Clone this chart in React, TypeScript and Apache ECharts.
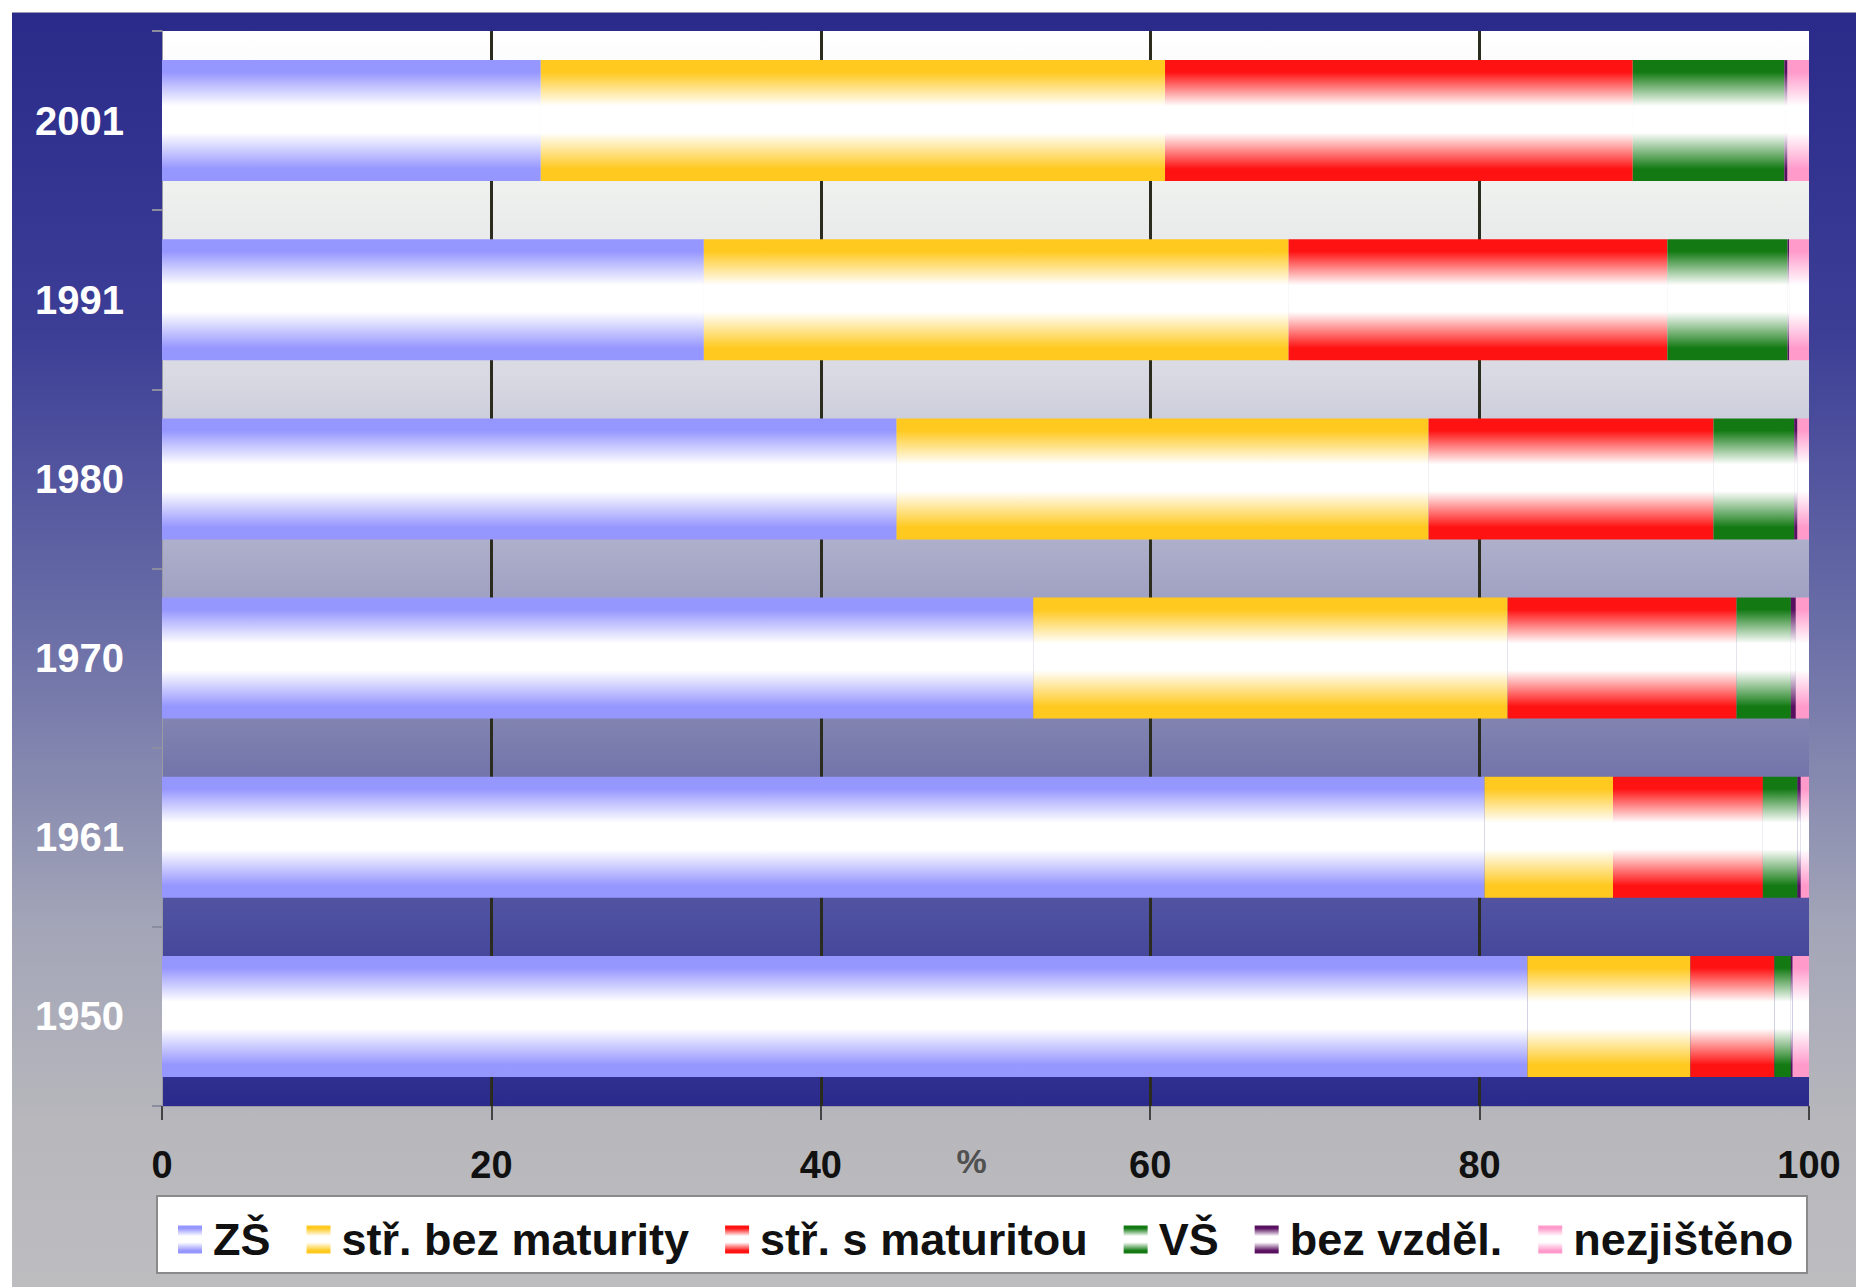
import React, { useEffect, useRef } from 'react';
import * as echarts from 'echarts';

const years = ['1950', '1961', '1970', '1980', '1991', '2001'];
const seriesNames = ['ZŠ', 'stř. bez maturity', 'stř. s maturitou', 'VŠ', 'bez vzděl.', 'nezjištěno'];
const zs = [82.9, 80.3, 52.9, 44.6, 32.9, 23.0];
const bezMaturity = [9.9, 7.8, 28.8, 32.3, 35.5, 37.9];
const sMaturitou = [5.1, 9.1, 13.9, 17.3, 23.0, 28.4];
const vs = [1.0, 2.1, 3.3, 4.9, 7.3, 9.2];
const bezVzdel = [0.1, 0.2, 0.3, 0.2, 0.1, 0.2];
const nezjisteno = [1.0, 0.5, 0.8, 0.7, 1.2, 1.3];
const xTickValues = [0, 20, 40, 60, 80, 100];
const seriesColors = ['#9696ff', '#ffc91f', '#ff1212', '#137a13', '#5a1060', '#ff9acb'];

const FONT = "'Liberation Sans', Arial, sans-serif";

function stripe(c: string) {
  return new echarts.graphic.LinearGradient(0, 0, 0, 1, [
    { offset: 0, color: c },
    { offset: 0.1, color: c },
    { offset: 0.38, color: '#ffffff' },
    { offset: 0.6, color: '#ffffff' },
    { offset: 0.9, color: c },
    { offset: 1, color: c },
  ]);
}

export default function App() {
  const ref = useRef<HTMLDivElement>(null);
  useEffect(() => {
    if (!ref.current) return;
    const chart = echarts.init(ref.current, undefined, { renderer: 'svg' });
    const allData = [zs, bezMaturity, sMaturitou, vs, bezVzdel, nezjisteno];
    const option: any = {
      animation: false,
      backgroundColor: 'transparent',
      textStyle: { fontFamily: FONT },
      graphic: [
        {
          type: 'rect',
          shape: { x: 145, y: 1183, width: 1650, height: 77 },
          style: { fill: '#ffffff', stroke: '#8a8a8a', lineWidth: 2 },
          z: 1,
          silent: true,
        },
      ],
      grid: {
        left: 150,
        right: 47,
        top: 18,
        bottom: 182,
        show: true,
        borderWidth: 0,
        backgroundColor: new echarts.graphic.LinearGradient(0, 0, 0, 1, [
          { offset: 0, color: '#ffffff' },
          { offset: 0.15, color: '#eef0ee' },
          { offset: 0.32, color: '#d8d9e2' },
          { offset: 0.49, color: '#aaabc8' },
          { offset: 0.66, color: '#7c7eae' },
          { offset: 0.82, color: '#4e50a0' },
          { offset: 1, color: '#2a2a8c' },
        ]),
      },
      legend: {
        data: seriesNames,
        left: 161,
        top: 1199,
        orient: 'horizontal',
        itemWidth: 24,
        itemHeight: 28,
        itemGap: 36,
        icon: 'rect',
        z: 10,
        textStyle: {
          fontSize: 45,
          fontWeight: 'bold',
          color: '#111111',
          fontFamily: FONT,
          padding: [0, 0, 0, 6],
        },
      },
      xAxis: {
        type: 'value',
        min: 0,
        max: 100,
        interval: 20,
        name: '%',
        nameLocation: 'middle',
        nameGap: 38,
        nameMoveOverlap: false,
        nameTextStyle: {
          fontSize: 34,
          fontWeight: 'bold',
          color: '#505050',
          fontFamily: FONT,
          padding: [0, 28, 0, 0],
        },
        axisLine: { show: true, lineStyle: { color: '#9a9aa6', width: 1 } },
        axisTick: { show: true, length: 14, lineStyle: { color: '#444444', width: 2 } },
        axisLabel: {
          fontSize: 38,
          fontWeight: 'bold',
          color: '#111111',
          margin: 40,
          fontFamily: FONT,
          formatter: (v: number) => (xTickValues.includes(v) ? String(v) : ''),
        },
        splitLine: {
          show: true,
          showMinLine: false,
          showMaxLine: false,
          lineStyle: { color: '#2b2b1e', width: 3 },
        },
      },
      yAxis: {
        type: 'category',
        data: years,
        axisLine: { show: true, lineStyle: { color: '#9a9aa6', width: 1 } },
        axisTick: { show: true, length: 10, lineStyle: { color: '#8c8ca0', width: 2 } },
        axisLabel: {
          fontSize: 40,
          fontWeight: 'bold',
          color: '#ffffff',
          margin: 38,
          fontFamily: FONT,
        },
        splitLine: { show: false },
      },
      series: seriesNames.map((name, i) => ({
        name,
        type: 'bar',
        stack: 'total',
        barCategoryGap: '32.5%',
        data: allData[i],
        itemStyle: { color: stripe(seriesColors[i]) },
        emphasis: { disabled: true },
      })),
    };
    chart.setOption(option);
    return () => chart.dispose();
  }, []);
  return (
    <div
      ref={ref}
      style={{
        position: 'absolute',
        left: 12,
        top: 12,
        width: 1844,
        height: 1275,
        background:
          'linear-gradient(to bottom, #2a2a8a 0%, #3c3e96 25%, #6e72a8 50%, #a4a6b8 72%, #b8b8bc 88%, #bdbdc0 100%)',
        borderTop: '1px solid #9a9ab0',
      }}
    />
  );
}
